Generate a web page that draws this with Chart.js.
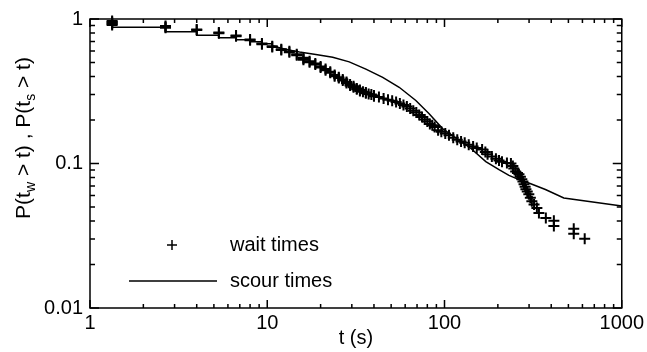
<!DOCTYPE html>
<html lang="en">
<head>
  <meta charset="UTF-8">
  <title>Wait and scour times</title>
  <script src="https://cdn.jsdelivr.net/npm/chart.js"></script>
  <style>
    body { margin: 0; background: #fff; }
  </style>
</head>
<body>
  <canvas id="survivalChart" width="647" height="352"></canvas>

  <script>
    // wait times: P(t_w > t), one "+" per sample
    const waitT = [1.333, 1.333, 1.333, 1.333, 1.333, 2.667, 2.667, 2.667, 4.0, 4.0,
      5.333, 5.333, 6.667, 6.667, 8.0, 8.0, 9.333, 9.333, 10.67, 10.67,
      12.0, 12.0, 13.33, 13.33, 14.67, 14.67, 16.0, 16.0, 16.0, 17.33, 17.33,
      18.67, 18.67, 20.0, 20.0, 21.33, 21.33, 22.67, 22.67, 24.0, 24.0,
      25.33, 25.33, 26.67, 26.67, 28.0, 28.0, 29.33, 29.33, 30.67, 30.67,
      32.0, 32.0, 33.33, 33.33, 34.67, 36.0, 36.0, 37.33, 38.67, 40.0, 40.0,
      42.67, 45.33, 48.0, 50.67, 53.33, 56.0, 58.67, 61.33, 64.0, 66.67,
      69.33, 72.0, 74.67, 77.33, 80.0, 82.67, 85.33, 88.0, 92.0, 96.0,
      101, 106, 112, 118, 124, 130, 137, 145, 152, 163, 170, 175, 185, 195,
      203, 211, 225, 237, 243, 246, 252, 258, 263, 268, 273, 277, 281, 285,
      288, 293, 299, 305, 311, 320, 332, 341, 373, 414, 414, 536, 536, 618];
    const waitP = [0.97, 0.955, 0.94, 0.925, 0.91, 0.895, 0.882, 0.87, 0.845, 0.838,
      0.805, 0.798, 0.768, 0.76, 0.722, 0.714, 0.678, 0.67, 0.648, 0.64,
      0.618, 0.61, 0.598, 0.588, 0.57, 0.562, 0.54, 0.53, 0.522, 0.51, 0.502,
      0.492, 0.484, 0.47, 0.462, 0.45, 0.442, 0.432, 0.424, 0.41, 0.402,
      0.396, 0.39, 0.382, 0.375, 0.366, 0.36, 0.352, 0.347, 0.342, 0.337,
      0.331, 0.326, 0.322, 0.318, 0.314, 0.31, 0.306, 0.303, 0.3, 0.296, 0.292,
      0.288, 0.282, 0.276, 0.272, 0.266, 0.26, 0.254, 0.248, 0.24, 0.232,
      0.225, 0.217, 0.21, 0.202, 0.195, 0.188, 0.184, 0.179, 0.17, 0.166,
      0.161, 0.157, 0.151, 0.146, 0.142, 0.139, 0.135, 0.131, 0.128, 0.125, 0.12, 0.116, 0.112, 0.108,
      0.105, 0.103, 0.101, 0.1, 0.096, 0.0924, 0.088, 0.086, 0.0841, 0.081, 0.0777, 0.075, 0.0718, 0.069,
      0.0664, 0.064, 0.0613, 0.058, 0.0549, 0.052, 0.0492, 0.0455, 0.042, 0.0401, 0.037, 0.0353, 0.0327, 0.0302];

    // scour times: P(t_s > t), stepped at the start, then a smooth curve
    const scourStepT = [1.333, 2.667, 4.0, 5.333, 6.667, 8.0, 9.333, 10.67];
    const scourStepP = [0.877, 0.815, 0.773, 0.741, 0.718, 0.696, 0.674, 0.653];
    const scourT = [10.67, 12.0, 13.9, 15.2, 18.8, 23.4, 29.0, 36.0, 44.8, 55.5,
      68.9, 81.9, 97.5, 141, 171, 203, 231, 263, 299, 371, 471, 1000];
    const scourP = [0.653, 0.628, 0.604, 0.591, 0.567, 0.543, 0.505, 0.45, 0.394, 0.337,
      0.273, 0.221, 0.1745, 0.127, 0.103, 0.0906, 0.0828, 0.0773, 0.0733, 0.0661, 0.0578, 0.0508];

    // tick labels, only on the decades
    const xTickLabels = ["1", "10", "100", "1000"];
    const yTickLabels = ["0.01", "0.1", "1"];

    const FONT = "'Liberation Sans', Arial, sans-serif";

    function toPoints(xs, ys) {
      return xs.map((v, i) => ({ x: v, y: ys[i] }));
    }

    function isDecade(v) {
      const e = Math.log10(v);
      return Math.abs(e - Math.round(e)) < 1e-6;
    }

    function decadeLabel(value, labels) {
      if (!isDecade(value)) return "";
      const found = labels.find(l => Math.abs(parseFloat(l) - value) < 1e-9);
      return found || "";
    }

    // box around the plot, with inward ticks on all four sides
    const frameTicks = {
      id: "frameTicks",
      afterDatasetsDraw(chart) {
        const { ctx, chartArea: a, scales } = chart;
        ctx.save();
        ctx.strokeStyle = "#000";
        ctx.lineWidth = 1.5;
        ctx.strokeRect(a.left, a.top, a.right - a.left, a.bottom - a.top);
        ctx.beginPath();
        const logTicks = (min, max) => {
          const out = [];
          for (let e = Math.floor(Math.log10(min)); e <= Math.ceil(Math.log10(max)); e++) {
            for (let m = 1; m <= 9; m++) {
              const v = m * Math.pow(10, e);
              if (v >= min * 0.999 && v <= max * 1.001) out.push(v);
            }
          }
          return out;
        };
        logTicks(scales.x.min, scales.x.max).forEach(v => {
          const px = scales.x.getPixelForValue(v);
          const len = isDecade(v) ? 8 : 4;
          ctx.moveTo(px, a.bottom); ctx.lineTo(px, a.bottom - len);
          ctx.moveTo(px, a.top); ctx.lineTo(px, a.top + len);
        });
        logTicks(scales.y.min, scales.y.max).forEach(v => {
          const py = scales.y.getPixelForValue(v);
          const len = isDecade(v) ? 9 : 5;
          ctx.moveTo(a.left, py); ctx.lineTo(a.left + len, py);
          ctx.moveTo(a.right, py); ctx.lineTo(a.right - len, py);
        });
        ctx.stroke();
        ctx.restore();
      }
    };

    // y title with subscripts, rotated
    const yTitle = {
      id: "yTitle",
      afterDraw(chart) {
        const { ctx } = chart;
        const parts = [
          { t: "P(t" }, { t: "w", sub: true }, { t: " > t) , P(t" },
          { t: "s", sub: true }, { t: " > t)" }
        ];
        const big = "21px " + FONT, small = "14px " + FONT;
        ctx.save();
        ctx.fillStyle = "#000";
        ctx.textBaseline = "alphabetic";
        let total = 0;
        parts.forEach(p => { ctx.font = p.sub ? small : big; total += ctx.measureText(p.t).width; });
        ctx.translate(30, 138);
        ctx.rotate(-Math.PI / 2);
        let cx = -total / 2;
        parts.forEach(p => {
          ctx.font = p.sub ? small : big;
          ctx.fillText(p.t, cx, p.sub ? 5 : 0);
          cx += ctx.measureText(p.t).width;
        });
        ctx.restore();
      }
    };

    // legend inside the plot, lower left
    const plotLegend = {
      id: "plotLegend",
      afterDraw(chart) {
        const { ctx, chartArea: a } = chart;
        ctx.save();
        ctx.strokeStyle = "#000";
        ctx.fillStyle = "#000";
        ctx.lineWidth = 1.5;
        ctx.beginPath();
        ctx.moveTo(a.left + 77, 245); ctx.lineTo(a.left + 87, 245);
        ctx.moveTo(a.left + 82, 240); ctx.lineTo(a.left + 82, 250);
        ctx.moveTo(a.left + 39, 281); ctx.lineTo(a.left + 127, 281);
        ctx.stroke();
        ctx.font = "20px " + FONT;
        ctx.textBaseline = "middle";
        ctx.fillText("wait times", a.left + 140, 245);
        ctx.fillText("scour times", a.left + 140, 281);
        ctx.restore();
      }
    };

    const ctx = document.getElementById("survivalChart").getContext("2d");
    new Chart(ctx, {
      type: "scatter",
      data: {
        datasets: [
          {
            label: "wait times",
            data: toPoints(waitT, waitP),
            showLine: false,
            pointStyle: "cross",
            pointRadius: 5.5,
            pointBorderWidth: 2,
            borderColor: "#000",
            backgroundColor: "#000",
            clip: false
          },
          {
            label: "scour times",
            data: toPoints(scourStepT, scourStepP),
            showLine: true,
            stepped: "before",
            pointRadius: 0,
            borderWidth: 1.5,
            borderColor: "#000"
          },
          {
            label: "scour times (tail)",
            data: toPoints(scourT, scourP),
            showLine: true,
            pointRadius: 0,
            borderWidth: 1.5,
            borderColor: "#000"
          }
        ]
      },
      options: {
        responsive: false,
        animation: false,
        layout: { padding: { top: 16, right: 24, left: 0, bottom: 0 } },
        plugins: {
          legend: { display: false },
          tooltip: { enabled: false }
        },
        scales: {
          x: {
            type: "logarithmic",
            min: 1,
            max: 1000,
            grid: { display: false, drawTicks: false },
            border: { display: false },
            ticks: {
              autoSkip: false,
              maxRotation: 0,
              padding: 3,
              color: "#000",
              font: { family: FONT, size: 20 },
              callback: v => decadeLabel(v, xTickLabels)
            },
            title: {
              display: true,
              text: "t (s)",
              color: "#000",
              font: { family: FONT, size: 20 },
              padding: { top: 0, bottom: 2 }
            },
            afterFit: s => { s.height = 44; }
          },
          y: {
            type: "logarithmic",
            min: 0.01,
            max: 1,
            grid: { display: false, drawTicks: false },
            border: { display: false },
            ticks: {
              autoSkip: false,
              padding: 7,
              color: "#000",
              font: { family: FONT, size: 20 },
              callback: v => decadeLabel(v, yTickLabels)
            },
            afterFit: s => { s.width = 90; }
          }
        }
      },
      plugins: [frameTicks, yTitle, plotLegend]
    });
  </script>
</body>
</html>
